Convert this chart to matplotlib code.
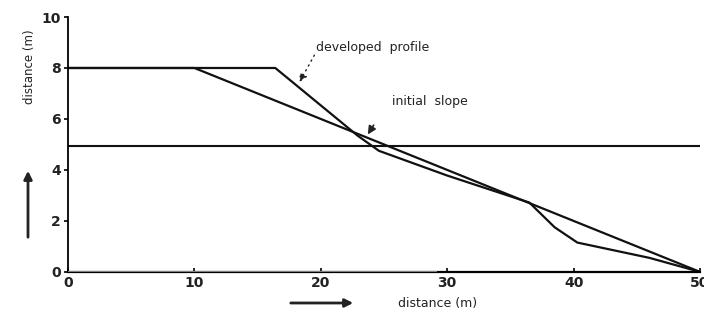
import matplotlib.pyplot as plt
from matplotlib.patches import FancyArrowPatch

# profile coordinates (m)
initial_x = [0, 10, 50]
initial_y = [8, 8, 0]

developed_x = [0, 16.4, 22.9, 24.6, 30, 36.5, 38.5, 40.3, 46, 50]
developed_y = [8, 8, 5.35, 4.75, 3.78, 2.72, 1.75, 1.15, 0.55, 0]

water_level = 4.95

x_ticks = [0, 10, 20, 30, 40, 50]
y_ticks = [0, 2, 4, 6, 8, 10]

fig = plt.figure(figsize=(7.04, 3.21), dpi=100)
ax = fig.add_axes([0.0966, 0.153, 0.8977, 0.794])

ax.plot(initial_x, initial_y, color='#111111', lw=1.6)
ax.plot(developed_x, developed_y, color='#111111', lw=1.6)
ax.axhline(water_level, color='#111111', lw=1.5)
ax.plot([0, 29], [0, 0], color='#8a8448', lw=2.2, zorder=3)

ax.set_xlim(0, 50)
ax.set_ylim(0, 10)
ax.set_xticks(x_ticks)
ax.set_yticks(y_ticks)
ax.spines['top'].set_visible(False)
ax.spines['right'].set_visible(False)
ax.spines['left'].set_linewidth(1.3)
ax.spines['bottom'].set_linewidth(1.6)
ax.tick_params(axis='y', direction='out', length=3, width=1.2, pad=2,
               labelsize=10)
ax.tick_params(axis='x', direction='in', length=3, width=1.2, pad=3,
               labelsize=10)
for lab in ax.get_xticklabels() + ax.get_yticklabels():
    lab.set_fontweight('bold')
    lab.set_color('#222222')

# annotations
ax.annotate('', xy=(18.2, 7.35), xytext=(19.6, 8.6),
            arrowprops=dict(arrowstyle='-|>', color='#222222', lw=1,
                            linestyle=(0, (1, 3)), mutation_scale=12))
ax.text(19.6, 8.8, 'developed  profile', fontsize=9, color='#222222',
        va='center', ha='left')
ax.annotate('', xy=(23.6, 5.3), xytext=(24.3, 5.85),
            arrowprops=dict(arrowstyle='-|>', color='#222222', lw=1.2,
                            mutation_scale=12))
ax.text(25.6, 6.7, 'initial  slope', fontsize=9, color='#222222',
        va='center', ha='left')

# axis labels with direction arrows
fig.text(438 / 704, 1 - 303 / 321, 'distance (m)', fontsize=9,
         ha='center', va='center', color='#222222')
fig.patches.append(FancyArrowPatch(
    (288 / 704, 1 - 303 / 321), (356 / 704, 1 - 303 / 321),
    transform=fig.transFigure, arrowstyle='-|>', mutation_scale=12,
    lw=2, color='#222222'))
fig.text(30 / 704, 1 - 67 / 321, 'distance (m)', fontsize=8.5,
         rotation=90, ha='center', va='center', color='#222222')
fig.patches.append(FancyArrowPatch(
    (28 / 704, 1 - 240 / 321), (28 / 704, 1 - 168 / 321),
    transform=fig.transFigure, arrowstyle='-|>', mutation_scale=12,
    lw=2, color='#222222'))

fig.savefig('out.png', dpi=100)
